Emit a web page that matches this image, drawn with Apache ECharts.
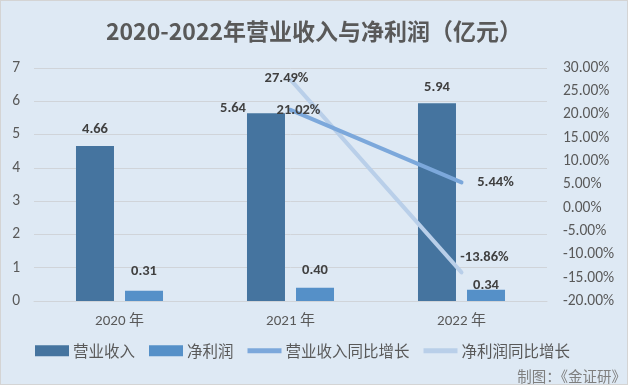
<!DOCTYPE html>
<html><head><meta charset="utf-8">
<script src="https://cdn.jsdelivr.net/npm/echarts@6/dist/echarts.min.js"></script>
<style>html,body{margin:0;padding:0;background:#fff}#c{width:628px;height:385px;box-sizing:border-box;border:1px solid #d4d4d4}</style>
</head><body><div id="c"></div>
<script>
const categories = ['2020 年', '2021 年', '2022 年'];
const revenue = [4.66, 5.64, 5.94];
const profit = [0.31, 0.40, 0.34];
const revenueGrowth = [null, 21.02, 5.44];
const profitGrowth = [null, 27.49, -13.86];
const seriesNames = ['营业收入', '净利润', '营业收入同比增长', '净利润同比增长'];
const titleText = '2020-2022年营业收入与净利润（亿元）';
const footerText = '制图：《金证研》';

const FONT = 'Calibri, Carlito, "Liberation Sans", "Noto Sans CJK SC", sans-serif';
const CJK = '"Noto Sans CJK SC", sans-serif';
const chart = echarts.init(document.getElementById('c'));
const revBarOffsets = [[0, 0], [-33, 11], [0, 0]];
const profBarOffsets = [[0, -3], [0, -1], [0, 12]];
const revOffsets = [null, [8, 1], [34, 0]];
const profOffsets = [null, [-4, -1], [23, -15]];
function lineData(vals, offs) {
  return vals.map((v, i) => v == null ? null : {
    value: v,
    label: { show: true, position: 'inside', offset: offs[i] }
  });
}
function barData(vals, offs) {
  return vals.map((v, i) => ({ value: v, label: { offset: offs[i] } }));
}
const valLabel = { show: true, position: 'top', distance: 9, color: '#404040', fontWeight: 'bold', fontSize: 14.5, fontFamily: FONT, formatter: p => p.value.toFixed(2) };
const pctLabel = { color: '#404040', fontWeight: 'bold', fontSize: 14.5, fontFamily: FONT, formatter: p => p.value.toFixed(2) + '%' };
const lineIcon = 'path://M0,0 L34,0 L34,5 L0,5 Z';
chart.setOption({
  backgroundColor: '#dee9f4',
  animation: false,
  title: { text: titleText, left: 'center', top: 14, textStyle: { color: '#595959', fontSize: 23, fontWeight: 'bold', fontFamily: CJK } },
  graphic: [{ type: 'text', right: 1, bottom: 0, style: { text: footerText, fill: '#7f7f7f', font: '14.5px ' + CJK } }],
  legend: {
    left: 29, top: 337, itemWidth: 34, itemHeight: 11, itemGap: 14,
    textStyle: { color: '#595959', fontSize: 15.5, fontFamily: CJK, padding: [0, 0, 0, -1] },
    data: [
      { name: seriesNames[0], icon: 'rect' },
      { name: seriesNames[1], icon: 'rect' },
      { name: seriesNames[2], icon: lineIcon },
      { name: seriesNames[3], icon: lineIcon }
    ]
  },
  grid: { left: 33, right: 80, top: 67, bottom: 83 },
  xAxis: {
    type: 'category', data: categories,
    axisLine: { show: true, lineStyle: { color: '#d0d4d9' } }, axisTick: { show: false },
    axisLabel: { color: '#595959', fontSize: 15, fontFamily: FONT, margin: 13 }
  },
  yAxis: [
    { type: 'value', min: 0, max: 7, interval: 1,
      axisLabel: { color: '#595959', fontSize: 15.5, fontFamily: FONT, margin: 14 },
      splitLine: { lineStyle: { color: '#d0d4d9', width: 1 } }, axisLine: { show: false } },
    { type: 'value', min: -20, max: 30, interval: 5, position: 'right',
      axisLabel: { color: '#595959', fontSize: 15.5, fontFamily: FONT, margin: 16, formatter: v => v.toFixed(2) + '%' },
      splitLine: { show: false }, axisLine: { show: false } }
  ],
  series: [
    { name: seriesNames[0], type: 'bar', data: barData(revenue, revBarOffsets), barWidth: 38, barGap: '29%', itemStyle: { color: '#45749f' }, label: valLabel },
    { name: seriesNames[1], type: 'bar', data: barData(profit, profBarOffsets), barWidth: 38, itemStyle: { color: '#5590c8' }, label: valLabel },
    { name: seriesNames[2], type: 'line', yAxisIndex: 1, data: lineData(revenueGrowth, revOffsets), symbol: 'circle', symbolSize: 2, showSymbol: true,
      lineStyle: { color: '#7ca8db', width: 4, cap: 'round' }, itemStyle: { color: '#7ca8db' }, label: pctLabel, z: 3 },
    { name: seriesNames[3], type: 'line', yAxisIndex: 1, data: lineData(profitGrowth, profOffsets), symbol: 'circle', symbolSize: 2, showSymbol: true,
      lineStyle: { color: '#b9cfe9', width: 4, cap: 'round' }, itemStyle: { color: '#b9cfe9' }, label: pctLabel, z: 2 }
  ]
});
</script></body></html>
